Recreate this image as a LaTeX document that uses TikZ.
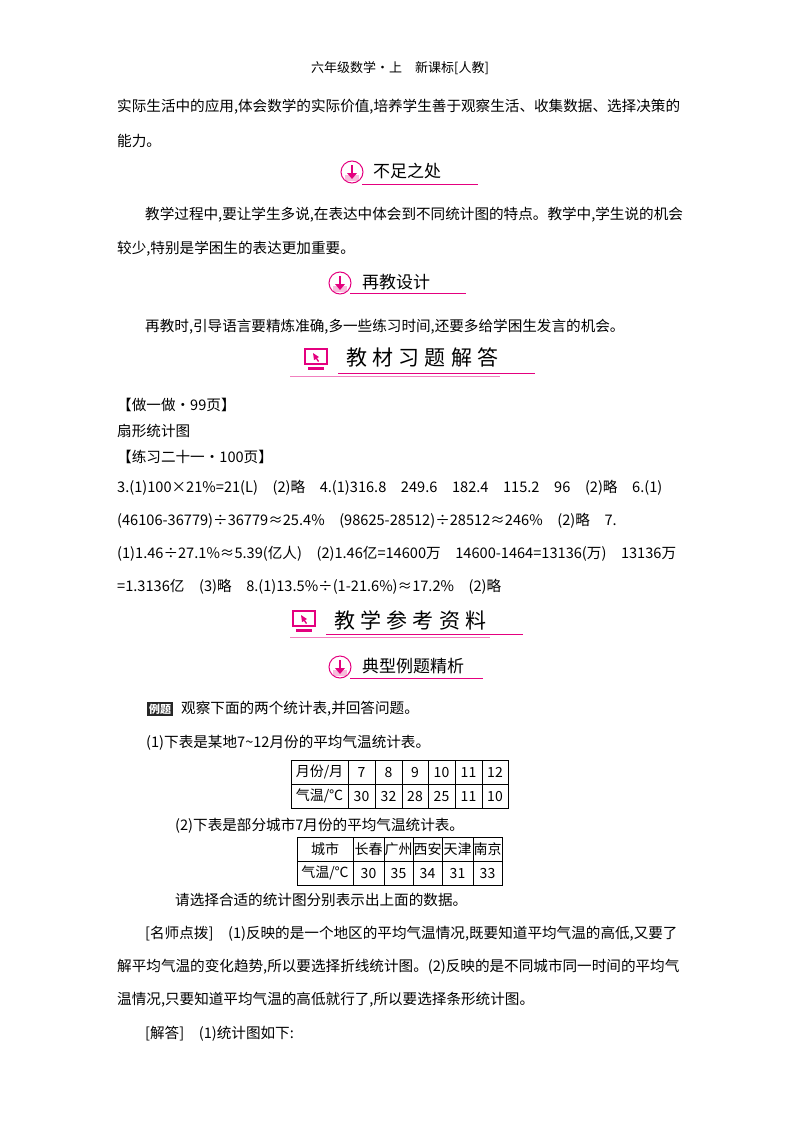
\documentclass[tikz,border=0pt]{standalone}
\usepackage{fontspec}
\setmainfont{Noto Sans CJK SC}
\usetikzlibrary{positioning}
\definecolor{rosa}{RGB}{228,0,127}
\definecolor{rosalt}{RGB}{246,190,220}
\tikzset{
  txt/.style={anchor=west,inner sep=0pt,font=\fontsize{14.6}{14.6}\selectfont},
  hd/.style={anchor=west,inner sep=0pt,font=\fontsize{17}{17}\selectfont},
  bighd/.style={anchor=west,inner sep=0pt,font=\fontsize{21}{21}\selectfont\addfontfeature{LetterSpace=25}},
  rule/.style={rosa,line width=0.9pt},
  cell/.style={inner sep=0pt,font=\fontsize{14}{14}\selectfont}
}
% small heading icon
\newcommand{\dlicon}[1]{%
  \fill[rosalt] (#1)++(-7,3) rectangle ++(14,6);
  \draw[rosa,line width=1pt] (#1) circle (11);
  \draw[rosa,line width=2.2pt] (#1)++(0,-7) -- ++(0,9);
  \fill[rosa] (#1)++(-5,1) -- ++(10,0) -- ++(-5,6) -- cycle;
}
% big heading icon
\newcommand{\pcicon}[1]{%
  \draw[rosa,line width=2.5pt] (#1)++(-11,-9) rectangle ++(22,15);
  \fill[rosa] (#1)++(-8,9) rectangle ++(16,3);
  \fill[rosa] (#1)++(-3,-5) -- ++(6,4) -- ++(-2,1) -- ++(2,3) -- ++(-1,1) -- ++(-2,-3) -- ++(-2,1) -- cycle;
}
\begin{document}
\begin{tikzpicture}[x=1pt,y=-1pt]
\useasboundingbox (0,0) rectangle (800,1132);

\node[font=\fontsize{13}{13}\selectfont] (hdr) at (400,68) {六年级数学·上\quad 新课标[人教]};

\node[txt] (p1) at (117,107) {实际生活中的应用,体会数学的实际价值,培养学生善于观察生活、收集数据、选择决策的};
\node[txt] (p2) at (117,141) {能力。};

% 不足之处
\coordinate (i1) at (352,172);
\dlicon{i1}
\node[hd] (h1) at (373,171) {不足之处};
\draw[rule] (362,184) -- (478,184);
\node[txt] (p3) at (145,215) {教学过程中,要让学生多说,在表达中体会到不同统计图的特点。教学中,学生说的机会};
\node[txt] (p4) at (117,249) {较少,特别是学困生的表达更加重要。};

% 再教设计
\coordinate (i2) at (340,283);
\dlicon{i2}
\node[hd] (h2) at (362,282) {再教设计};
\draw[rule] (350,293) -- (466,293);
\node[txt] (p5) at (145,327) {再教时,引导语言要精炼准确,多一些练习时间,还要多给学困生发言的机会。};

% 教材习题解答
\coordinate (i3) at (316,358);
\pcicon{i3}
\node[bighd] (h3) at (346,358) {教材习题解答};
\draw[rosa,line width=0.8pt] (338,373) -- (535,373);
\draw[rosa!50,line width=0.8pt] (290,376) -- (500,376);

\node[txt] (q1) at (117,405) {【做一做·99页】};
\node[txt] (q2) at (117,431) {扇形统计图};
\node[txt] (q3) at (117,457) {【练习二十一·100页】};
\node[txt] (q4) at (117,488) {3.(1)100×21\%=21(L)\quad (2)略\quad 4.(1)316.8\quad 249.6\quad 182.4\quad 115.2\quad 96\quad (2)略\quad 6.(1)};
\node[txt] (q5) at (117,521) {(46106-36779)÷36779≈25.4\%\quad (98625-28512)÷28512≈246\%\quad (2)略\quad 7.};
\node[txt] (q6) at (117,554) {(1)1.46÷27.1\%≈5.39(亿人)\quad (2)1.46亿=14600万\quad 14600-1464=13136(万)\quad 13136万};
\node[txt] (q7) at (117,587) {=1.3136亿\quad (3)略\quad 8.(1)13.5\%÷(1-21.6\%)≈17.2\%\quad (2)略};

% 教学参考资料
\coordinate (i4) at (304,620);
\pcicon{i4}
\node[bighd] (h4) at (334,620) {教学参考资料};
\draw[rosa,line width=0.8pt] (326,634) -- (523,634);
\draw[rosa!50,line width=0.8pt] (290,637) -- (490,637);

% 典型例题精析
\coordinate (i5) at (340,667);
\dlicon{i5}
\node[hd] (h5) at (362,666) {典型例题精析};
\draw[rule] (350,678) -- (483,678);

\node[fill=black!85,text=white,inner sep=2pt,font=\fontsize{11}{11}\selectfont\bfseries] (lt) at (160,709) {例题};
\node[txt] (r1) at (181,709) {观察下面的两个统计表,并回答问题。};
\node[txt] (r2) at (146,743) {(1)下表是某地7\textasciitilde 12月份的平均气温统计表。};

% table 1
\draw[line width=0.9pt] (291,760) rectangle (508,808);
\draw (291,784) -- (508,784);
\foreach \x in {348,375,402,428,455,482} \draw (\x,760) -- (\x,808);
\foreach \t/\x in {{月份/月}/319.5,7/361.5,8/388.5,9/415,10/441.5,11/468.5,12/495}
  \node[cell] at (\x,772) {\t};
\foreach \t/\x in {{气温/℃}/319.5,30/361.5,32/388.5,28/415,25/441.5,11/468.5,10/495}
  \node[cell] at (\x,796) {\t};

\node[txt] (r3) at (175,826) {(2)下表是部分城市7月份的平均气温统计表。};

% table 2
\draw[line width=0.9pt] (297,837) rectangle (502,885);
\draw (297,861) -- (502,861);
\foreach \x in {353,384,413,442,473} \draw (\x,837) -- (\x,885);
\foreach \t/\x in {城市/325,长春/368.5,广州/398.5,西安/427.5,天津/457.5,南京/487.5}
  \node[cell] at (\x,849) {\t};
\foreach \t/\x in {{气温/℃}/325,30/368.5,35/398.5,34/427.5,31/457.5,33/487.5}
  \node[cell] at (\x,873) {\t};

\node[txt] (r4) at (175,900) {请选择合适的统计图分别表示出上面的数据。};
\node[txt] (r5) at (145,934) {[名师点拨]\quad (1)反映的是一个地区的平均气温情况,既要知道平均气温的高低,又要了};
\node[txt] (r6) at (117,967) {解平均气温的变化趋势,所以要选择折线统计图。(2)反映的是不同城市同一时间的平均气};
\node[txt] (r7) at (117,1000) {温情况,只要知道平均气温的高低就行了,所以要选择条形统计图。};
\node[txt] (r8) at (145,1034) {[解答]\quad (1)统计图如下:};
\end{tikzpicture}
\end{document}
